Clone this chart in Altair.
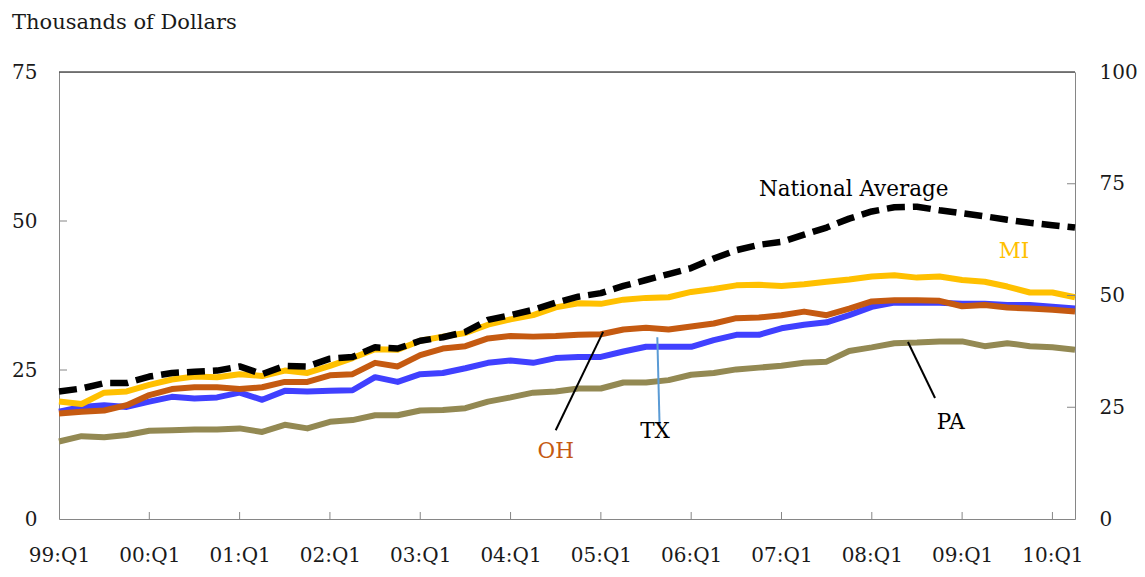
import altair as alt
import pandas as pd

# ---------------- data ----------------
n_q = 46  # 99:Q1 .. 10:Q2
quarter_idx = list(range(n_q))

national = [21.4, 21.9, 22.8, 22.8, 23.9, 24.5, 24.7, 24.9, 25.6, 24.3, 25.7, 25.6, 26.9,
            27.2, 28.8, 28.6, 29.9, 30.5, 31.4, 33.4, 34.2, 35.1, 36.3, 37.3,
            37.9, 39.1, 40.1, 41.1, 42.1, 43.7, 45.1, 46.0, 46.5, 47.7, 48.9,
            50.4, 51.6, 52.3, 52.4, 51.8, 51.3, 50.8, 50.2, 49.7, 49.3, 48.9]
mi = [19.7, 19.3, 21.2, 21.4, 22.5, 23.4, 23.9, 23.8, 24.3, 24.0, 24.9, 24.5, 25.7,
      27.0, 28.5, 28.4, 29.9, 30.6, 31.2, 32.6, 33.5, 34.2, 35.5, 36.2,
      36.1, 36.8, 37.1, 37.2, 38.1, 38.6, 39.2, 39.3, 39.1, 39.4, 39.8,
      40.2, 40.7, 40.9, 40.5, 40.7, 40.1, 39.8, 39.0, 38.0, 38.0, 37.2]
oh = [17.7, 18.0, 18.2, 19.1, 20.8, 21.8, 22.1, 22.1, 21.8, 22.1, 23.0, 23.0, 24.1,
      24.3, 26.2, 25.6, 27.5, 28.6, 29.0, 30.3, 30.7, 30.6, 30.7, 30.9,
      31.0, 31.8, 32.1, 31.8, 32.3, 32.8, 33.7, 33.8, 34.2, 34.8, 34.2,
      35.3, 36.5, 36.7, 36.7, 36.6, 35.7, 35.9, 35.5, 35.3, 35.1, 34.8]
tx = [18.0, 18.8, 19.1, 18.8, 19.7, 20.5, 20.2, 20.4, 21.2, 20.0, 21.5, 21.4, 21.5,
      21.6, 23.8, 23.0, 24.3, 24.5, 25.3, 26.2, 26.6, 26.2, 27.0, 27.2,
      27.2, 28.1, 28.9, 28.9, 28.9, 30.0, 30.9, 30.9, 32.0, 32.6, 33.0,
      34.2, 35.6, 36.3, 36.3, 36.3, 36.1, 36.1, 35.9, 35.9, 35.6, 35.3]
pa = [13.0, 13.9, 13.7, 14.1, 14.8, 14.9, 15.0, 15.0, 15.2, 14.6, 15.8, 15.2, 16.3,
      16.6, 17.4, 17.4, 18.2, 18.3, 18.6, 19.7, 20.4, 21.2, 21.4, 21.9,
      21.9, 22.9, 22.9, 23.3, 24.2, 24.5, 25.1, 25.4, 25.7, 26.2, 26.4,
      28.2, 28.8, 29.5, 29.6, 29.8, 29.8, 29.0, 29.5, 29.0, 28.8, 28.4]

tick_labels = ["99:Q1", "00:Q1", "01:Q1", "02:Q1", "03:Q1", "04:Q1",
               "05:Q1", "06:Q1", "07:Q1", "08:Q1", "09:Q1", "10:Q1"]
tick_idx = [4 * k for k in range(len(tick_labels))]
left_ticks = [0, 25, 50, 75]
right_ticks = [0, 25, 50, 75, 100]

# annotations (data coordinates)
ann_text = ["National Average", "MI", "OH", "TX", "PA"]
ann_x = [35.2, 42.3, 22.0, 26.4, 39.5]
ann_y = [55.2, 44.8, 11.2, 14.6, 16.1]
ann_color = ["#000000", "#FFC000", "#C55A11", "#000000", "#000000"]

lead_x = [22.0, 26.6, 38.8]
lead_y = [14.9, 15.8, 20.3]
lead_x2 = [24.1, 26.5, 37.6]
lead_y2 = [31.4, 30.5, 29.7]
lead_color = ["#000000", "#5B9BD5", "#000000"]

# ---------------- build ----------------
W, H = 1016, 447
FONT = "DejaVu Serif"
GRAY = "#868686"
TXT = "#1a1a1a"

label_expr = "[" + ",".join(f"'{t}'" for t in tick_labels) + "][datum.value / 4]"

xscale = alt.Scale(domain=[0, n_q - 1], nice=False, zero=False)
yscale = alt.Scale(domain=[0, 75], nice=False)

xaxis = alt.Axis(values=tick_idx, labelExpr=label_expr, ticks=False, grid=False,
                 domainColor=GRAY, labelFont=FONT, labelFontSize=20,
                 labelColor=TXT, labelPadding=26, title=None, labelFlush=False)
yaxis = alt.Axis(values=left_ticks, ticks=False, grid=False, domainColor=GRAY,
                 labelFont=FONT, labelFontSize=20, labelColor=TXT,
                 labelPadding=22, title=None)

series = [("PA", pa, "#938953", None),
          ("TX", tx, "#4040FF", None),
          ("OH", oh, "#C55A11", None),
          ("MI", mi, "#FFC000", None),
          ("National Average", national, "#000000", [18, 8])]

layers = []
for name, vals, col, dash in series:
    df = pd.DataFrame({"q": quarter_idx, "v": vals})
    kw = dict(color=col, strokeWidth=6, strokeJoin="round")
    if dash:
        kw["strokeDash"] = dash
        kw["strokeWidth"] = 6.5
    layers.append(
        alt.Chart(df).mark_line(**kw).encode(
            x=alt.X("q:Q", scale=xscale, axis=xaxis),
            y=alt.Y("v:Q", scale=yscale, axis=yaxis),
        )
    )

# inward ticks on x axis
xt = alt.Chart(pd.DataFrame({"q": tick_idx[1:]})).mark_rule(color=GRAY, strokeWidth=1).encode(
    x=alt.X("q:Q", scale=xscale), y=alt.value(H), y2=alt.value(H - 7))
# inward ticks on left axis
lt = alt.Chart(pd.DataFrame({"v": left_ticks[1:-1]})).mark_rule(color=GRAY, strokeWidth=1).encode(
    y=alt.Y("v:Q", scale=yscale), x=alt.value(0), x2=alt.value(8))
# top border
top = alt.Chart(pd.DataFrame({"v": [75]})).mark_rule(color="#000000", strokeWidth=1).encode(
    y=alt.Y("v:Q", scale=yscale), x=alt.value(0), x2=alt.value(W))

ann_df = pd.DataFrame({"t": ann_text, "x": ann_x, "y": ann_y, "c": ann_color})
ann = alt.Chart(ann_df).mark_text(font=FONT, fontSize=21.5, baseline="middle", align="center").encode(
    x=alt.X("x:Q", scale=xscale), y=alt.Y("y:Q", scale=yscale),
    text="t:N", color=alt.Color("c:N", scale=None))

lead_df = pd.DataFrame({"x": lead_x, "y": lead_y, "x2": lead_x2, "y2": lead_y2, "c": lead_color})
leads = alt.Chart(lead_df).mark_rule(strokeWidth=2).encode(
    x=alt.X("x:Q", scale=xscale), y=alt.Y("y:Q", scale=yscale),
    x2="x2:Q", y2="y2:Q", color=alt.Color("c:N", scale=None))

title = alt.Chart(pd.DataFrame({"t": ["Thousands of Dollars"]})).mark_text(
    font=FONT, fontSize=21, align="left", baseline="middle", color=TXT).encode(
    x=alt.value(-47), y=alt.value(-49), text="t:N")

left_layer = alt.layer(xt, lt, top, *layers, leads, ann, title)

# right axis layer
rscale = alt.Scale(domain=[0, 100], nice=False)
raxis = alt.Axis(values=right_ticks, orient="right", ticks=False, grid=False,
                 domainColor=GRAY, labelFont=FONT, labelFontSize=20,
                 labelColor=TXT, labelPadding=24, title=None)
rt = alt.Chart(pd.DataFrame({"v": right_ticks[1:-1]})).mark_rule(color=GRAY, strokeWidth=1).encode(
    y=alt.Y("v:Q", scale=rscale, axis=raxis), x=alt.value(W - 8), x2=alt.value(W))

chart = alt.layer(left_layer, rt).resolve_scale(y="independent").properties(
    width=W, height=H,
    autosize=alt.AutoSizeParams(type="none"),
    padding={"left": 51, "top": 64, "right": 62, "bottom": 50},
).configure_view(stroke=None).configure(background="#FFFFFF")

chart.save("out.html", embed_options={"renderer": "svg", "actions": False})
